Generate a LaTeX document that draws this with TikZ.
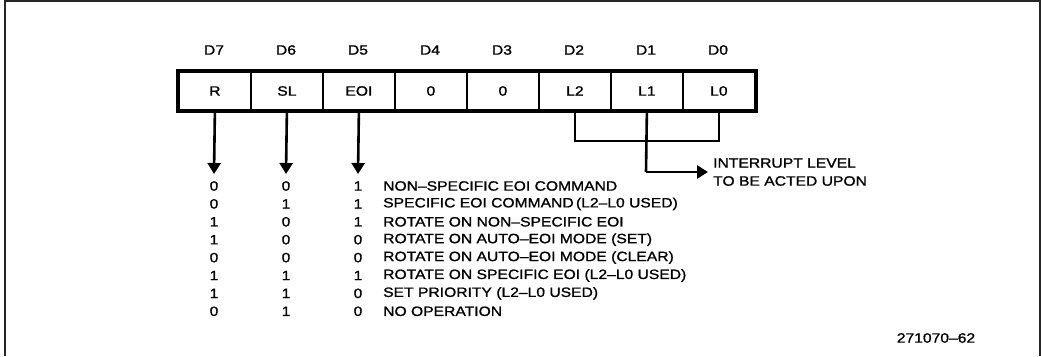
\documentclass[tikz,border=0pt]{standalone}
\usepackage{fontspec}
\setmainfont[FakeStretch=1.16,FakeBold=1.2,Ligatures=TeX]{Liberation Sans}
\usetikzlibrary{arrows.meta}
\begin{document}
\begin{tikzpicture}[x=1pt,y=-1pt,
  lbl/.style={inner sep=0pt,font=\fontsize{13.5}{15}\selectfont},
  cell/.style={draw,line width=1.8pt,minimum width=72pt,minimum height=38pt,inner sep=0pt,font=\fontsize{13.5}{15}\selectfont,anchor=west},
  conn/.style={line width=2.6pt},
  arr/.style={line width=2.6pt,-{Triangle[length=11pt,width=13pt]}},
  frame/.style={line width=2pt,draw=black!85}]
\useasboundingbox (0,0) rectangle (1041,356);
\draw[frame] (5,356) -- (5,1) -- (1039.5,1) -- (1039.5,356);
% header labels
\foreach \n [count=\i from 0] in {D7,D6,D5,D4,D3,D2,D1,D0}
  \node[lbl] (h\i) at (214+72*\i,50) {\n};
% cells
\foreach \t [count=\i from 0] in {R,SL,EOI,0,0,L2,L1,L0}
  \node[cell] (c\i) at (178+72*\i,91) {\t};
\draw[line width=3.4pt] (c0.north west) rectangle (c7.south east);
% arrows from R, SL, EOI
\coordinate (a0) at (214,174);
\coordinate (a1) at (286,174);
\coordinate (a2) at (358,174);
\draw[arr] (c0.south) -- (a0);
\draw[arr] (c1.south) -- (a1);
\draw[arr] (c2.south) -- (a2);
% bracket L2..L0
\draw[conn] (c5.south) -- ++(0,30) -| (c7.south);
\node[lbl,anchor=west] (il1) at (713,163) {INTERRUPT LEVEL};
\node[lbl,anchor=west] (il2) at (713,181) {TO BE ACTED UPON};
\coordinate (tip) at (708,172);
\draw[conn] (c6.south) -- (646,172);
\draw[arr] (646,172) -- (tip);
% table
\foreach \r/\s/\e/\txt [count=\i from 0] in {
  0/0/1/{NON--SPECIFIC EOI COMMAND},
  0/1/1/{SPECIFIC EOI COMMAND\,(L2--L0 USED)},
  1/0/1/{ROTATE ON NON--SPECIFIC EOI},
  1/0/0/{ROTATE ON AUTO--EOI MODE (SET)},
  0/0/0/{ROTATE ON AUTO--EOI MODE (CLEAR)},
  1/1/1/{ROTATE ON SPECIFIC EOI (L2--L0 USED)},
  1/1/0/{SET PRIORITY (L2--L0 USED)},
  0/1/0/{NO OPERATION}} {
  \node[lbl] (r\i) at (214,186+17.9*\i) {\r};
  \node[lbl] (s\i) at (286,186+17.9*\i) {\s};
  \node[lbl] (e\i) at (358,186+17.9*\i) {\e};
  \node[lbl,anchor=west] (t\i) at (383,186+17.9*\i) {\txt};
}
\node[lbl] (fig) at (936,338) {271070--62};
\end{tikzpicture}
\end{document}
